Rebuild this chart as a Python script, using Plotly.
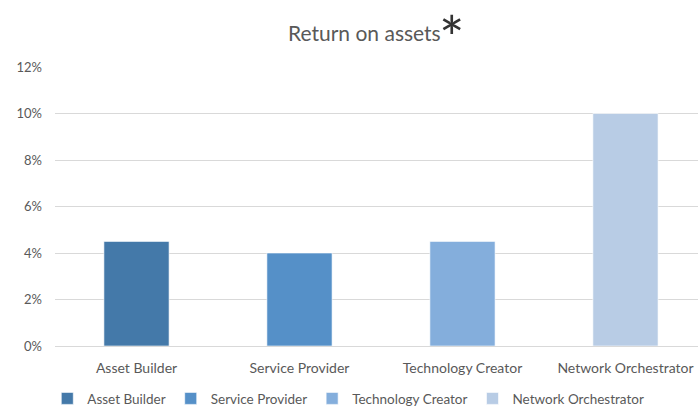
import plotly.graph_objects as go

categories = ["Asset Builder", "Service Provider", "Technology Creator", "Network Orchestrator"]
values = [0.045, 0.04, 0.045, 0.10]
colors = ["#4479A9", "#5590C8", "#84AEDC", "#B8CCE5"]
y_ticks = [0, 0.02, 0.04, 0.06, 0.08, 0.10, 0.12]

FONT = "Lato, 'Open Sans', sans-serif"
GRAY = "#595959"

fig = go.Figure()
for cat, val, col in zip(categories, values, colors):
    fig.add_trace(go.Bar(
        x=[cat], y=[val], name=cat, width=0.4,
        marker=dict(color=col, line=dict(color="rgba(255,255,255,0.6)", width=1)),
    ))

fig.update_layout(
    width=698, height=406,
    margin=dict(l=55, r=0, t=67, b=60, autoexpand=False),
    paper_bgcolor="white", plot_bgcolor="white",
    barmode="overlay",
    font=dict(family=FONT, color=GRAY, size=13),
    title=dict(
        text="Return on assets",
        x=0.522, xanchor="center", y=0.917, yanchor="middle",
        font=dict(size=21, color=GRAY, family=FONT),
    ),
    annotations=[dict(
        text="*", xref="paper", yref="paper", x=0.618, y=1.1075,
        xanchor="center", yanchor="middle", showarrow=False,
        font=dict(size=60, color="#333333", family=FONT),
    )],
    xaxis=dict(
        categoryorder="array", categoryarray=categories,
        range=[-0.5, 3.445],
        showgrid=False, showline=False, zeroline=False,
        ticks="", ticklabelstandoff=12,
        tickfont=dict(size=14, color=GRAY),
    ),
    yaxis=dict(
        range=[0, 0.12], tickvals=y_ticks, tickformat=".0%",
        showgrid=True, gridcolor="#D9D9D9", gridwidth=1,
        zeroline=True, zerolinecolor="#D9D9D9", zerolinewidth=1,
        showline=False, ticks="", ticklabelstandoff=12,
        tickfont=dict(size=13, color=GRAY),
    ),
    legend=dict(
        orientation="h", x=-0.012, xanchor="left", y=-0.133, yanchor="top",
        font=dict(size=13.5, color=GRAY), itemwidth=30,
        bgcolor="rgba(0,0,0,0)",
    ),
    showlegend=True,
)

fig.write_html(
    "out.html",
    config={"displayModeBar": False},
    post_script="document.body.style.margin='0px';document.body.style.overflow='hidden';",
)
